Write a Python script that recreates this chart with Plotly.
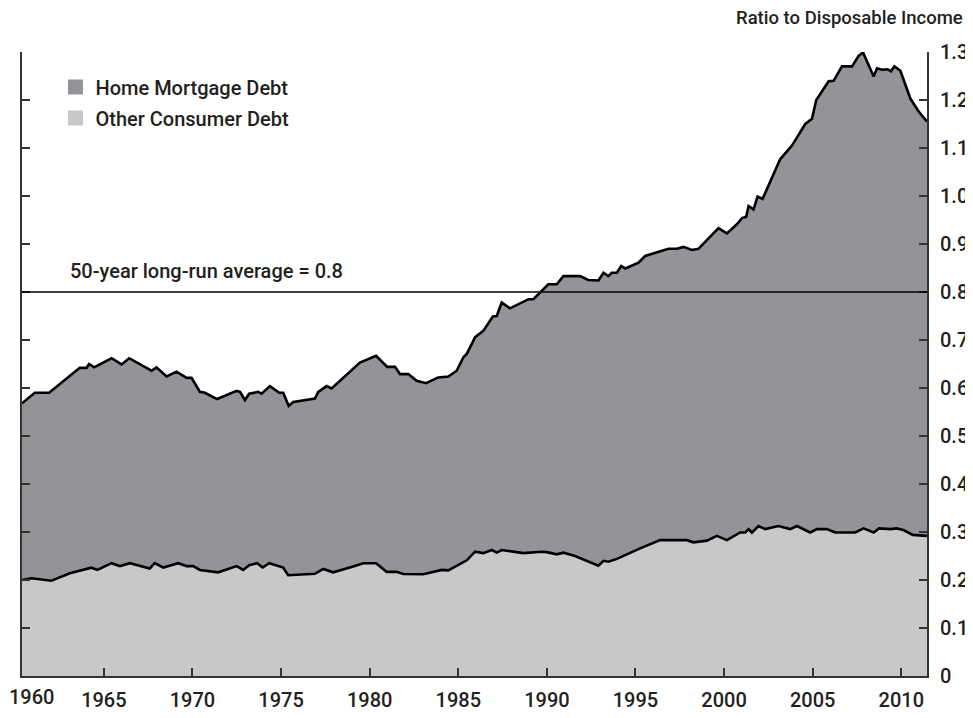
import plotly.graph_objects as go

# ---- data ----
total_debt_years = [1960.38, 1961.10, 1961.91, 1963.64, 1964.02, 1964.17, 1964.45, 1965.43, 1966.00, 1966.43,
                    1967.69, 1967.97, 1968.54, 1969.10, 1969.67, 1969.95, 1970.42, 1970.70, 1971.39, 1972.49,
                    1972.68, 1972.96, 1973.20, 1973.71, 1973.90, 1974.37, 1974.90, 1975.12, 1975.43, 1975.69,
                    1976.91, 1977.10, 1977.57, 1977.85, 1979.45, 1980.36, 1980.99, 1981.43, 1981.71, 1982.18,
                    1982.65, 1983.18, 1983.87, 1984.44, 1984.91, 1985.29, 1985.48, 1985.95, 1986.41, 1986.95,
                    1987.17, 1987.45, 1987.92, 1988.96, 1989.24, 1990.08, 1990.56, 1990.93, 1991.87, 1992.34,
                    1992.91, 1993.19, 1993.47, 1993.66, 1993.95, 1994.19, 1994.42, 1994.70, 1995.17, 1995.54,
                    1996.86, 1997.33, 1997.71, 1998.18, 1998.55, 1999.68, 2000.16, 2000.72, 2001.01, 2001.25,
                    2001.38, 2001.66, 2001.89, 2002.17, 2003.17, 2003.83, 2004.58, 2004.96, 2005.20, 2005.90,
                    2006.18, 2006.65, 2007.22, 2007.59, 2007.84, 2008.44, 2008.63, 2008.91, 2009.23, 2009.42,
                    2009.61, 2009.95, 2010.51, 2010.98, 2011.45]
total_debt_ratio = [0.568, 0.590, 0.590, 0.642, 0.642, 0.650, 0.643, 0.662, 0.649, 0.662,
                    0.636, 0.643, 0.624, 0.634, 0.621, 0.621, 0.592, 0.590, 0.577, 0.594,
                    0.592, 0.575, 0.588, 0.592, 0.588, 0.604, 0.590, 0.590, 0.563, 0.571,
                    0.578, 0.592, 0.604, 0.599, 0.653, 0.667, 0.644, 0.644, 0.629, 0.629,
                    0.615, 0.610, 0.622, 0.624, 0.636, 0.664, 0.671, 0.706, 0.719, 0.749,
                    0.750, 0.778, 0.766, 0.785, 0.785, 0.816, 0.816, 0.833, 0.833, 0.825,
                    0.824, 0.840, 0.833, 0.840, 0.840, 0.854, 0.849, 0.854, 0.861, 0.875,
                    0.890, 0.890, 0.894, 0.8875, 0.890, 0.933, 0.922, 0.941, 0.954, 0.957,
                    0.979, 0.972, 0.999, 0.994, 1.077, 1.105, 1.150, 1.161, 1.200, 1.239,
                    1.240, 1.270, 1.270, 1.292, 1.299, 1.249, 1.266, 1.263, 1.264, 1.260,
                    1.270, 1.261, 1.203, 1.176, 1.155]

other_debt_years = [1960.38, 1960.91, 1962.04, 1963.08, 1964.30, 1964.64, 1965.43, 1965.90, 1966.47, 1967.59,
                    1967.87, 1968.35, 1969.19, 1969.67, 1970.04, 1970.42, 1971.45, 1972.49, 1972.86, 1973.20,
                    1973.65, 1973.96, 1974.33, 1975.12, 1975.40, 1976.91, 1977.38, 1977.94, 1979.07, 1979.64,
                    1980.36, 1980.96, 1981.52, 1981.90, 1983.03, 1983.59, 1984.07, 1984.44, 1985.48, 1985.95,
                    1986.41, 1986.89, 1987.17, 1987.45, 1988.67, 1989.71, 1989.99, 1990.56, 1990.93, 1991.59,
                    1992.91, 1993.19, 1993.47, 1993.95, 1995.26, 1996.39, 1997.90, 1998.27, 1999.03, 1999.59,
                    2000.16, 2000.91, 2001.19, 2001.38, 2001.57, 2001.94, 2002.32, 2003.07, 2003.73, 2004.11,
                    2004.86, 2005.24, 2005.80, 2006.27, 2007.40, 2007.87, 2008.44, 2008.74, 2009.40, 2009.74,
                    2010.12, 2010.65, 2011.45]
other_debt_ratio = [0.200, 0.2035, 0.1985, 0.214, 0.2257, 0.221, 0.235, 0.229, 0.235, 0.224,
                    0.235, 0.226, 0.235, 0.229, 0.229, 0.221, 0.216, 0.229, 0.221, 0.231,
                    0.235, 0.226, 0.235, 0.226, 0.210, 0.213, 0.223, 0.216, 0.228, 0.235,
                    0.235, 0.217, 0.217, 0.2125, 0.212, 0.217, 0.221, 0.220, 0.241, 0.259,
                    0.256, 0.2625, 0.257, 0.2625, 0.256, 0.259, 0.258, 0.2535, 0.257, 0.250,
                    0.230, 0.240, 0.238, 0.244, 0.266, 0.283, 0.283, 0.2785, 0.282, 0.292,
                    0.283, 0.299, 0.299, 0.306, 0.2985, 0.3125, 0.306, 0.3125, 0.306, 0.3125,
                    0.299, 0.306, 0.306, 0.299, 0.299, 0.3075, 0.299, 0.3075, 0.306, 0.3075,
                    0.304, 0.294, 0.292]

long_run_average = 0.8
average_label = "50-year long-run average = 0.8"
series_names = ["Home Mortgage Debt", "Other Consumer Debt"]
axis_title = "Ratio to Disposable Income"

x_tick_years = [1965, 1970, 1975, 1980, 1985, 1990, 1995, 2000, 2005, 2010]
x_tick_labels = ["1965", "1970", "1975", "1980", "1985", "1990", "1995", "2000", "2005", "2010"]
first_year_label = "1960"
x_range = [1960.38, 2011.45]

y_tick_values = [0, 0.1, 0.2, 0.3, 0.4, 0.5, 0.6, 0.7, 0.8, 0.9, 1.0, 1.1, 1.2, 1.3]
y_tick_labels = ["0", "0.1", "0.2", "0.3", "0.4", "0.5", "0.6", "0.7", "0.8", "0.9", "1.0", "1.1", "1.2", "1.3"]
y_range = [0, 1.3]

# ---- styles ----
MORTGAGE_COLOR = "#939498"
OTHER_COLOR = "#c7c8ca"
TEXT_COLOR = "#231f20"
FONT = "Roboto, Arial, sans-serif"

fig = go.Figure()

fig.add_trace(go.Scatter(
    x=other_debt_years, y=other_debt_ratio, mode="lines",
    line=dict(color="black", width=2.6), fill="tozeroy", fillcolor=OTHER_COLOR,
    showlegend=False, hoverinfo="skip"))
fig.add_trace(go.Scatter(
    x=total_debt_years, y=total_debt_ratio, mode="lines",
    line=dict(color="black", width=2.6), fill="tonexty", fillcolor=MORTGAGE_COLOR,
    showlegend=False, hoverinfo="skip"))

# legend entries
for name, color in zip(series_names, [MORTGAGE_COLOR, OTHER_COLOR]):
    fig.add_trace(go.Scatter(
        x=[None], y=[None], mode="markers", name=name, legendgroup=name,
        marker=dict(symbol="square", size=15, color=color, line=dict(width=0))))

fig.add_hline(y=long_run_average, line=dict(color="black", width=1.5), layer="above")

fig.add_annotation(
    text=average_label, xref="paper", yref="y", x=0.051, y=long_run_average,
    xanchor="left", yanchor="bottom", yshift=7, showarrow=False,
    font=dict(family=FONT, size=20, color=TEXT_COLOR, weight=500))

fig.add_annotation(
    text=axis_title, xref="paper", yref="paper", x=1.041, y=1.055,
    xanchor="right", yanchor="middle", showarrow=False, borderpad=0,
    font=dict(family=FONT, size=18.5, color=TEXT_COLOR, weight=500))

# first-year label sits just right of the page edge, under the left axis line
fig.add_annotation(
    text=first_year_label, xref="paper", yref="paper", x=-0.0152, y=0,
    xanchor="left", yanchor="top", yshift=-8, showarrow=False, borderpad=0,
    font=dict(family=FONT, size=20, color=TEXT_COLOR, weight=500))

axis_common = dict(
    showgrid=False, zeroline=False, showline=True, linecolor="#333333", linewidth=2,
    ticks="inside", ticklen=8, tickwidth=1.5, tickcolor="#333333", automargin=False,
    tickfont=dict(family=FONT, size=20, color=TEXT_COLOR, weight=500))

fig.update_xaxes(range=x_range, tickmode="array", tickvals=x_tick_years, ticktext=x_tick_labels,
                 mirror=False, ticklabelstandoff=5, **axis_common)
fig.update_yaxes(range=y_range, tickmode="array", tickvals=y_tick_values, ticktext=y_tick_labels,
                 side="right", mirror="ticks", ticklabelstandoff=7, **axis_common)

# the page body has an 8px margin, so the figure is sized to fill the window after that offset
fig.update_layout(
    width=965, height=710,
    margin=dict(l=14, r=46, t=44, b=42, autoexpand=False),
    paper_bgcolor="white", plot_bgcolor="white",
    font=dict(family=FONT, color=TEXT_COLOR),
    showlegend=True,
    legend=dict(x=0.037, y=0.975, xanchor="left", yanchor="top",
                bgcolor="rgba(0,0,0,0)", tracegroupgap=2,
                font=dict(family=FONT, size=20, color=TEXT_COLOR, weight=500)),
)

fig.write_html("out.html")
